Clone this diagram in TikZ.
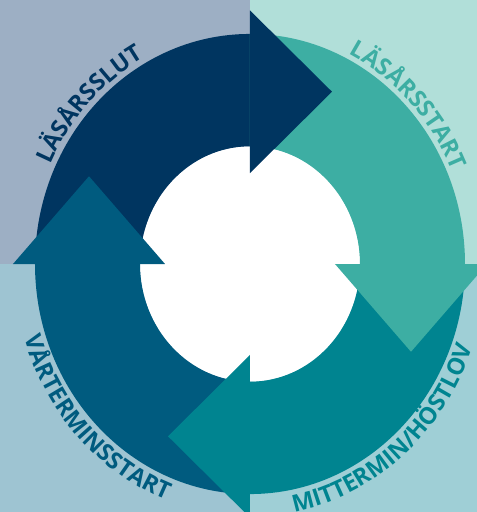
\documentclass[tikz,border=0pt]{standalone}
\usepackage{fontspec}
\setmainfont{Open Sans}
\usetikzlibrary{decorations.text}

\definecolor{bgslut}{RGB}{157,175,196}
\definecolor{bgstart}{RGB}{177,223,217}
\definecolor{bgvar}{RGB}{158,196,210}
\definecolor{bghost}{RGB}{159,207,214}
\definecolor{slut}{RGB}{0,53,96}
\definecolor{start}{RGB}{61,174,163}
\definecolor{host}{RGB}{0,132,144}
\definecolor{var}{RGB}{0,91,127}

\newcommand{\labelfont}{\fontsize{23.5}{23.5}\selectfont\bfseries}

\begin{document}
\begin{tikzpicture}[x=1pt,y=1pt,
    label/.style={decorate,decoration={text along path,text align=center,text color=#1,
        text={|\labelfont|\labeltext}}}]
    \useasboundingbox (-250,-248) rectangle (227,264);
    % quarter backgrounds
    \fill[bgslut]  (-250,0) rectangle (0,264);
    \fill[bgstart] (0,0) rectangle (227,264);
    \fill[bgvar]   (-250,-248) rectangle (0,0);
    \fill[bghost]  (0,-248) rectangle (227,0);
    \begin{scope}[yscale=1.07]
        \fill[white] (0,0) circle (110);
        % ring, one quarter per period
        \foreach \a/\c in {180/slut,90/start,0/host,-90/var}
            \fill[\c] (\a:215) arc[start angle=\a,end angle=\a-90,radius=215]
                -- (\a-90:110) arc[start angle=\a-90,end angle=\a,radius=110] -- cycle;
        % heads on top of the next quarter
        \foreach \a/\c in {180/slut,90/start,0/host,-90/var}
            \fill[\c,rotate=\a-180] (0,85) -- (0,237) -- (82,161) -- cycle;
        % labels round the ring
        \def\labeltext{LÄSÅRSSLUT}
        \path[label=slut] (172:220) arc[start angle=172,end angle=101,radius=220];
        \def\labeltext{LÄSÅRSSTART}
        \path[label=start] (87:220) arc[start angle=87,end angle=1,radius=220];
        \def\labeltext{VÅRTERMINSSTART}
        \path[label=var] (170:236) arc[start angle=170,end angle=278,radius=236];
        \def\labeltext{MITTERMIN/HÖSTLOV}
        \path[label=host] (254:236) arc[start angle=254,end angle=366,radius=236];
    \end{scope}
\end{tikzpicture}
\end{document}
